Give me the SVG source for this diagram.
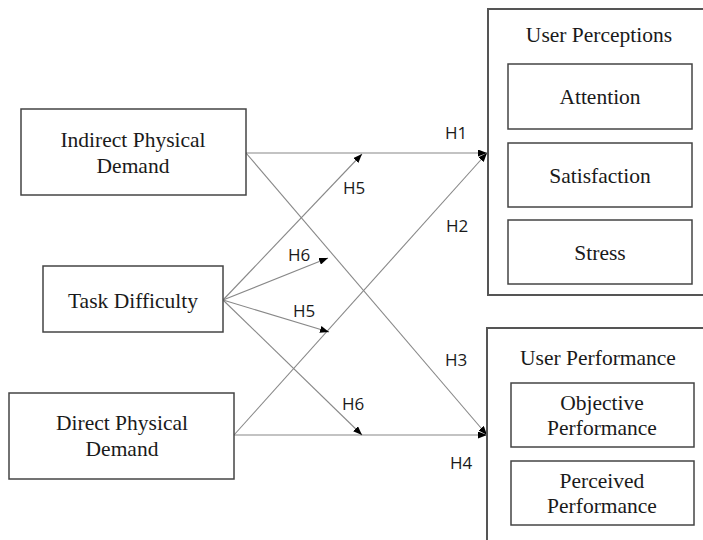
<svg xmlns="http://www.w3.org/2000/svg" width="703" height="540" viewBox="0 0 703 540">
<style>
.box{fill:#fff;stroke:#444;stroke-width:1.5}
.outer{fill:none;stroke:#555;stroke-width:2}
.t{font-family:"Liberation Serif","Times New Roman",serif;font-size:21.5px;fill:#1a1a1a;text-anchor:middle}
.h{font-family:"Open Sans","Noto Sans",sans-serif;font-size:17px;fill:#1a1a1a}
.c{fill:none;stroke:#888;stroke-width:1.1}
</style>
<defs>
<marker id="ah" markerUnits="userSpaceOnUse" markerWidth="9" markerHeight="7" refX="9" refY="3.5" orient="auto">
<path d="M0,0 L9,3.5 L0,7 z" fill="#000"/>
</marker>
</defs>
<rect width="703" height="540" fill="#fff"/>
<g id="connectors">
<line class="c" x1="246" y1="153" x2="487" y2="153" marker-end="url(#ah)"/>
<line class="c" x1="246" y1="153" x2="487" y2="435" marker-end="url(#ah)"/>
<line class="c" x1="234" y1="435" x2="487" y2="153" marker-end="url(#ah)"/>
<line class="c" x1="234" y1="435" x2="487" y2="435" marker-end="url(#ah)"/>
<line class="c" x1="223" y1="300" x2="362" y2="154" marker-end="url(#ah)"/>
<line class="c" x1="223" y1="300" x2="328" y2="258" marker-end="url(#ah)"/>
<line class="c" x1="223" y1="300" x2="329" y2="332" marker-end="url(#ah)"/>
<line class="c" x1="223" y1="300" x2="362" y2="435" marker-end="url(#ah)"/>
<text class="h" x="445" y="139">H1</text>
<text class="h" x="343" y="194">H5</text>
<text class="h" x="446" y="232">H2</text>
<text class="h" x="288" y="261">H6</text>
<text class="h" x="293" y="317">H5</text>
<text class="h" x="445" y="366">H3</text>
<text class="h" x="342" y="410">H6</text>
<text class="h" x="450" y="469">H4</text>
</g>
<g id="indirect">
<rect class="box" x="21" y="109" width="225" height="86"/>
<text class="t" x="133" y="147">Indirect Physical</text>
<text class="t" x="133" y="173">Demand</text>
</g>
<g id="task">
<rect class="box" x="43" y="266" width="180" height="66"/>
<text class="t" x="133" y="308">Task Difficulty</text>
</g>
<g id="direct">
<rect class="box" x="9" y="393" width="225" height="86"/>
<text class="t" x="122" y="430">Direct Physical</text>
<text class="t" x="122" y="456">Demand</text>
</g>
<g id="perceptions">
<rect class="outer" x="488" y="9" width="240" height="286"/>
<text class="t" x="599" y="42">User Perceptions</text>
</g>
<g id="attention">
<rect class="box" x="508" y="64" width="184" height="65"/>
<text class="t" x="600" y="104">Attention</text>
</g>
<g id="satisfaction">
<rect class="box" x="508" y="143" width="184" height="64"/>
<text class="t" x="600" y="183">Satisfaction</text>
</g>
<g id="stress">
<rect class="box" x="508" y="220" width="184" height="64"/>
<text class="t" x="600" y="260">Stress</text>
</g>
<g id="performance">
<rect class="outer" x="487" y="328" width="240" height="230"/>
<text class="t" x="598" y="365">User Performance</text>
</g>
<g id="objective">
<rect class="box" x="511" y="383" width="183" height="64"/>
<text class="t" x="602" y="410">Objective</text>
<text class="t" x="602" y="435">Performance</text>
</g>
<g id="perceived">
<rect class="box" x="511" y="461" width="183" height="64"/>
<text class="t" x="602" y="488">Perceived</text>
<text class="t" x="602" y="513">Performance</text>
</g>
</svg>
